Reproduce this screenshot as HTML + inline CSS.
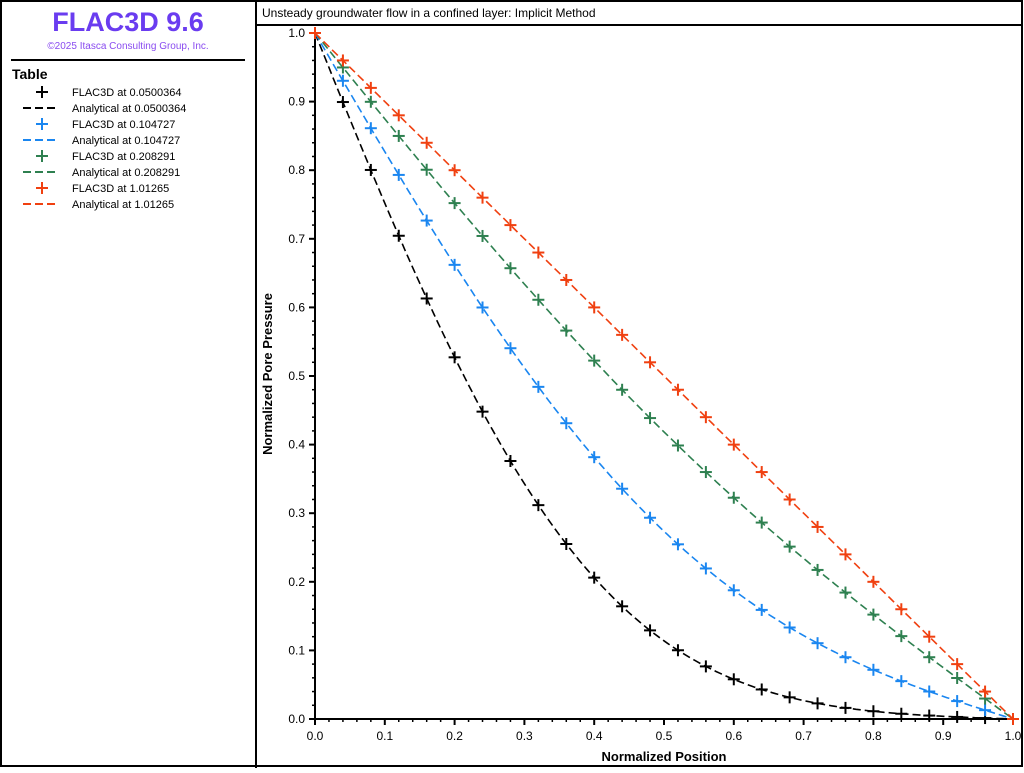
<!DOCTYPE html>
<html><head><meta charset="utf-8"><style>
body{margin:0;background:#fff;font-family:"Liberation Sans",sans-serif}
</style></head><body>
<svg id="s" width="1024" height="768" xmlns="http://www.w3.org/2000/svg" font-family="Liberation Sans, sans-serif">
<rect x="0" y="0" width="1024" height="768" fill="#fff"/>
<rect x="1" y="1" width="1021" height="765" fill="none" stroke="#000" stroke-width="2"/>
<line x1="256" y1="0" x2="256" y2="768" stroke="#000" stroke-width="2"/>
<line x1="256" y1="25" x2="1022" y2="25" stroke="#000" stroke-width="2"/>
<text x="128" y="31" text-anchor="middle" font-size="27" font-weight="bold" fill="#6a3cf0">FLAC3D 9.6</text>
<text x="128" y="49" text-anchor="middle" font-size="10" fill="#8a4cf0">©2025 Itasca Consulting Group, Inc.</text>
<line x1="11" y1="60" x2="245" y2="60" stroke="#000" stroke-width="2"/>
<text x="12" y="79" font-size="14" font-weight="bold">Table</text>
<text x="262" y="17" font-size="12">Unsteady groundwater flow in a confined layer: Implicit Method</text>
<text x="664" y="761" text-anchor="middle" font-size="13" font-weight="bold">Normalized Position</text>
<text transform="translate(272,374) rotate(-90)" text-anchor="middle" font-size="13" font-weight="bold">Normalized Pore Pressure</text>
<g id="g"></g>
</svg>
<script>
var g=document.getElementById('g'),NS='http://www.w3.org/2000/svg';
function el(t,a){var e=document.createElementNS(NS,t);for(var k in a)e.setAttribute(k,a[k]);g.appendChild(e);return e;}
var X0=315,X1=1013,Y0=719,Y1=33;
function px(x){return X0+x*(X1-X0)}function py(y){return Y0-y*(Y0-Y1)}
// axes
el('line',{x1:X0,y1:27,x2:X0,y2:Y0+1,stroke:'#000','stroke-width':2});
el('line',{x1:X0-1,y1:Y0,x2:1015,y2:Y0,stroke:'#000','stroke-width':2});
for(var i=0;i<=50;i++){var v=i/50,maj=i%5==0;
 el('line',{x1:X0-(maj?6:3),y1:py(v),x2:X0,y2:py(v),stroke:'#000','stroke-width':maj?2:1.5});
 el('line',{x1:px(v),y1:Y0,x2:px(v),y2:Y0+(maj?6:3),stroke:'#000','stroke-width':maj?2:1.5});
 if(i%5==0){var t=el('text',{x:X0-10,y:py(v)+4,'text-anchor':'end','font-size':12});t.textContent=(v).toFixed(1);
 var t2=el('text',{x:px(v),y:Y0+21,'text-anchor':'middle','font-size':12});t2.textContent=(v).toFixed(1);}
}
function p(x,t){var s=1-x;for(var n=1;n<200;n++)s-=2/(n*Math.PI)*Math.sin(n*Math.PI*x)*Math.exp(-n*n*Math.PI*Math.PI*t);return Math.max(0,s);}
var ser=[[0.0500364,'#000'],[0.104727,'#1a86f0'],[0.208291,'#2e8050'],[1.01265,'#f04010']];
function plus(x,y,c){el('line',{x1:x-6,y1:y,x2:x+6,y2:y,stroke:c,'stroke-width':2});el('line',{x1:x,y1:y-6,x2:x,y2:y+6,stroke:c,'stroke-width':2});}
ser.forEach(function(s,k){var d='';for(var i=0;i<=200;i++){var x=i/200;d+=(i?'L':'M')+px(x).toFixed(1)+' '+py(i==0?1:p(x,s[0])).toFixed(1);}
 el('path',{d:d,fill:'none',stroke:s[1],'stroke-width':1.6,'stroke-dasharray':'8,4'});
 for(var i=0;i<=25;i++){var x=i*0.04;plus(px(x),py(i==0?1:(i==25?0:p(x,s[0]))),s[1]);}
 var ly=92+k*32;plus(42,ly,s[1]);el('line',{x1:23,y1:ly+16,x2:57,y2:ly+16,stroke:s[1],'stroke-width':2,'stroke-dasharray':'8,4'});
 var a=el('text',{x:72,y:ly+4,'font-size':11});a.textContent='FLAC3D at '+s[0];
 var b=el('text',{x:72,y:ly+20,'font-size':11});b.textContent='Analytical at '+s[0];
});
</script>
</body></html>
